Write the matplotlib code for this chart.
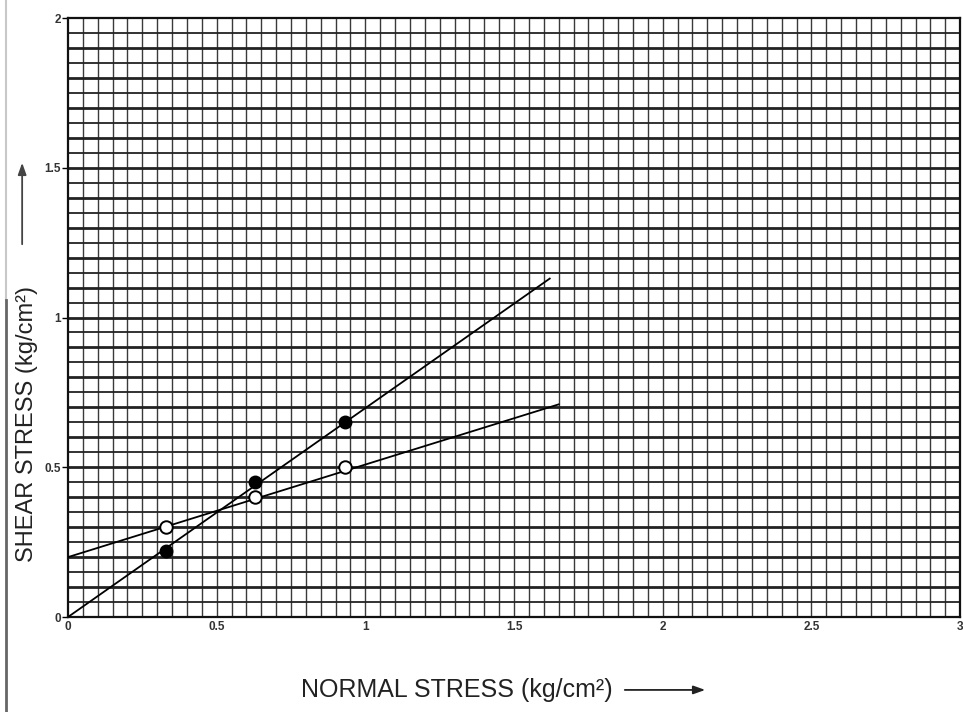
import numpy as np
import matplotlib
matplotlib.use('Agg')
import matplotlib.pyplot as plt
from matplotlib.lines import Line2D
from matplotlib.patches import FancyArrowPatch

# test results
normal_stress = [0.33, 0.63, 0.93]
shear_peak = [0.22, 0.45, 0.65]      # filled circles
shear_resid = [0.30, 0.40, 0.50]     # open circles

# drawn envelopes (end points as read)
peak_line_x = [0.0, 1.62]
peak_line_y = [0.0, 1.13]
resid_line_x = [0.0, 1.65]
resid_line_y = [0.20, 0.71]

x_ticks = [0, 0.5, 1, 1.5, 2, 2.5, 3]
x_tick_labels = ['0', '0.5', '1', '1.5', '2', '2.5', '3']
y_ticks = [0, 0.5, 1, 1.5, 2]
y_tick_labels = ['0', '0.5', '1', '1.5', '2']

plt.rcParams['font.family'] = ['Liberation Sans', 'DejaVu Sans']

fig = plt.figure(figsize=(9.63, 7.12), dpi=100)
ax = fig.add_axes([0.0706, 0.1334, 0.9264, 0.8413])
ax.set_xlim(0, 3)
ax.set_ylim(0, 2)

# graph paper grid
for gx in np.arange(0.05, 3.0, 0.05):
	ax.axvline(gx, color='#3a3a3a', lw=1.0, zorder=1)
for i, gy in enumerate(np.arange(0.05, 2.0, 0.05)):
	lw = 2.0 if i % 2 == 1 else 1.3
	ax.axhline(gy, color='#222222', lw=lw, zorder=1)

ax.plot(peak_line_x, peak_line_y, color='black', lw=1.3, zorder=3)
ax.plot(resid_line_x, resid_line_y, color='black', lw=1.3, zorder=3)
ax.plot(normal_stress, shear_peak, 'o', color='black', ms=9, zorder=4)
ax.plot(normal_stress, shear_resid, 'o', mfc='white', mec='black', mew=1.4, ms=9, zorder=4)

ax.set_xticks(x_ticks)
ax.set_xticklabels(x_tick_labels, fontsize=8.5, fontweight='bold', color='#333333')
ax.set_yticks(y_ticks)
ax.set_yticklabels(y_tick_labels, fontsize=8.5, fontweight='bold', color='#333333')
ax.tick_params(axis='x', length=0, pad=3)
ax.tick_params(axis='y', length=4, width=1, pad=1)
for s in ax.spines.values():
	s.set_linewidth(1.6)
	s.set_color('#111111')

# axis titles with arrows, placed as on the scan
fig.text(0.4745, 0.031, 'NORMAL STRESS (kg/cm²)', fontsize=18, color='#222222',
	ha='center', va='center')
fig.text(0.028, 1-424/712, 'SHEAR STRESS (kg/cm²)', fontsize=17, color='#222222',
	ha='center', va='center', rotation=90)
fig.patches.append(FancyArrowPatch((622/963, 0.031), (708/963, 0.031),
	transform=fig.transFigure, arrowstyle='-|>,head_length=7,head_width=2.5', color='#222222', lw=1.3))
fig.patches.append(FancyArrowPatch((0.023, 1-247/712), (0.023, 1-160/712),
	transform=fig.transFigure, arrowstyle='-|>,head_length=7,head_width=2.5', color='#444444', lw=1.3))

# page edge from the scan
fig.add_artist(Line2D([6/963, 6/963], [1-300/712, 1], transform=fig.transFigure, color='#c8c8c8', lw=1.5))
fig.add_artist(Line2D([6/963, 6/963], [0, 1-300/712], transform=fig.transFigure, color='#666666', lw=2))

fig.savefig('out.png', dpi=100)
